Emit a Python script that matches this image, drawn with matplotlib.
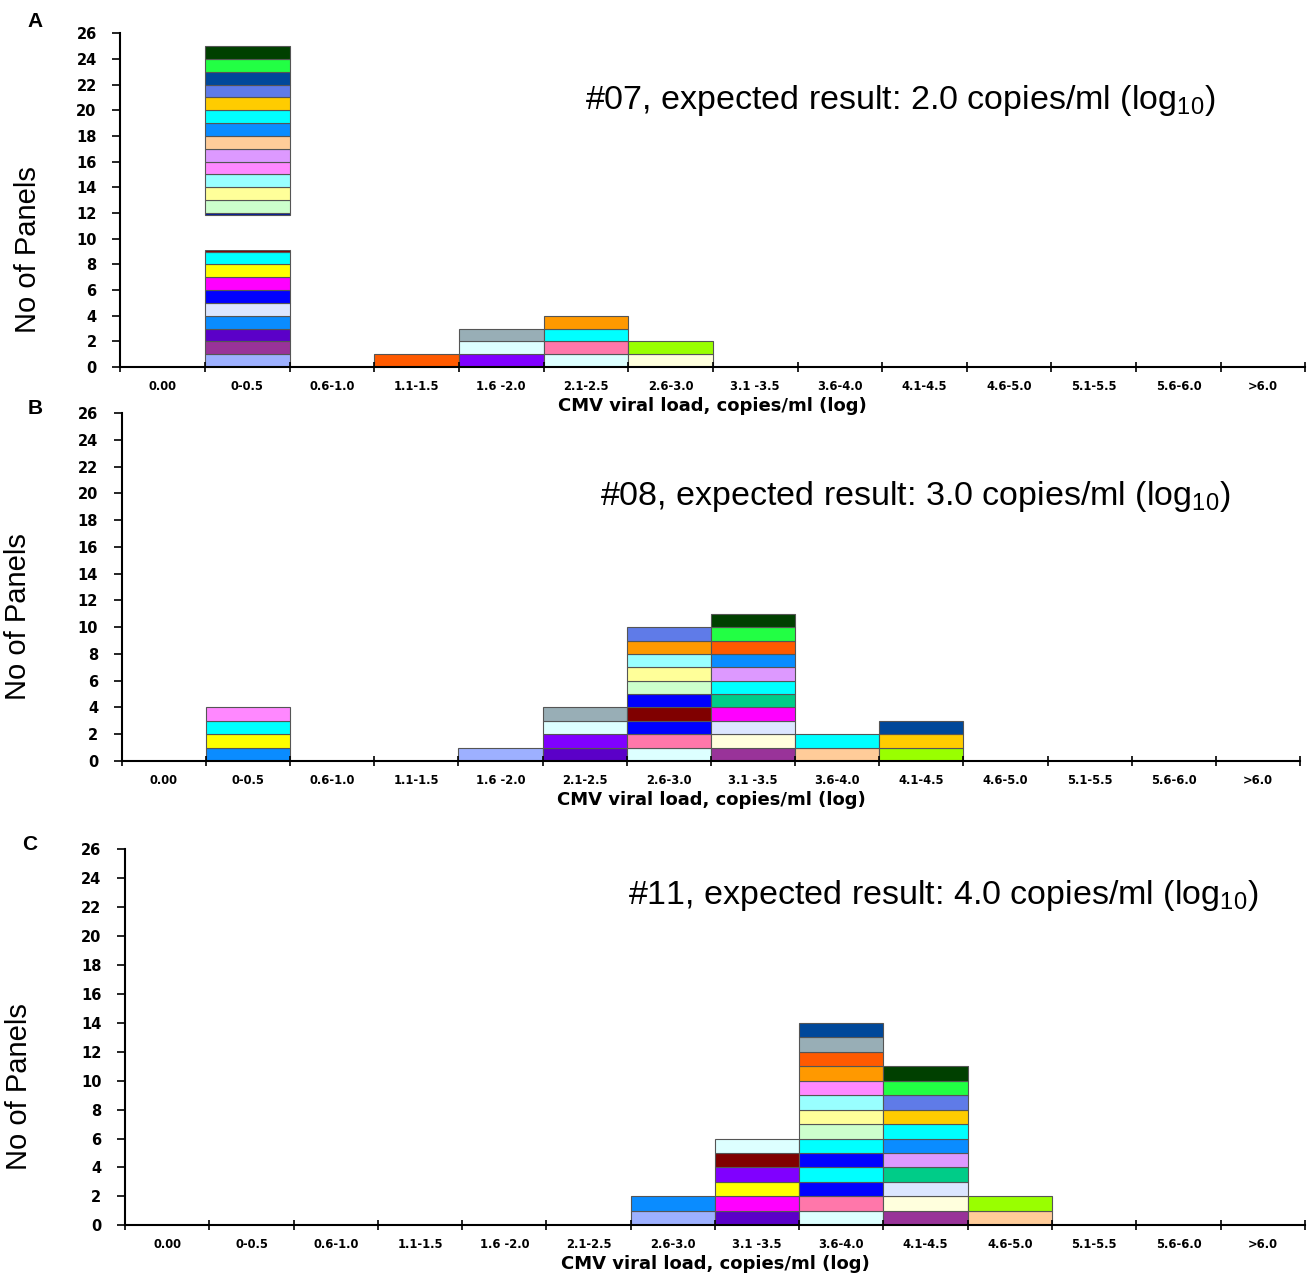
import matplotlib
matplotlib.use('Agg')
import matplotlib.pyplot as plt
from matplotlib.ticker import FixedLocator, NullFormatter, FixedFormatter

plt.rcParams['font.family'] = ['Liberation Sans', 'DejaVu Sans']
plt.rcParams['mathtext.default'] = 'regular'

categories = ["0.00", "0-0.5", "0.6-1.0", "1.1-1.5", "1.6 -2.0", "2.1-2.5", "2.6-3.0",
              "3.1 -3.5", "3.6-4.0", "4.1-4.5", "4.6-5.0", "5.1-5.5", "5.6-6.0", ">6.0"]

COL = {
    'periwinkle': '#9DB0FF', 'dkmagenta': '#993399', 'indigo': '#5B00C8',
    'dodger': '#0A8CFF', 'paleblue': '#DCE6FF', 'blue': '#0000FF',
    'magenta': '#FF00FF', 'yellow': '#FFFF00', 'cyan': '#00FFFF',
    'darkred': '#800000', 'navythin': '#0018A0', 'lightgreen': '#CCFFCC',
    'lightyellow': '#FFFF99', 'palecyan': '#99FFFF', 'pinkviolet': '#FF88FF',
    'lilac': '#DD99FF', 'peach': '#FFCC99', 'gold': '#FFCC00',
    'royal': '#5F7BE8', 'navy': '#00489A', 'green': '#22FF44',
    'dkgreen': '#004000', 'orangered': '#FF5A00', 'purple': '#8000FF',
    'lightcyan': '#DDFFFF', 'graybl': '#98AEB6', 'pink': '#FF77AA',
    'orange': '#FF9900', 'ivory': '#FFFFDD', 'lime': '#99FF00',
    'teal': '#00CC88', 'gap': 'white',
}

# Panel A (#07) stacked segments per category (bottom -> top)
a_colors = {
    "0-0.5": ['periwinkle', 'dkmagenta', 'indigo', 'dodger', 'paleblue', 'blue',
              'magenta', 'yellow', 'cyan', 'darkred', 'gap', 'navythin',
              'lightgreen', 'lightyellow', 'palecyan', 'pinkviolet', 'lilac', 'peach',
              'dodger', 'cyan', 'gold', 'royal', 'navy', 'green', 'dkgreen'],
    "1.1-1.5": ['orangered'],
    "1.6 -2.0": ['purple', 'lightcyan', 'graybl'],
    "2.1-2.5": ['lightcyan', 'pink', 'cyan', 'orange'],
    "2.6-3.0": ['ivory', 'lime'],
}
a_heights = {
    "0-0.5": [1, 1, 1, 1, 1, 1, 1, 1, 1, 0.15, 2.7, 0.15,
              1, 1, 1, 1, 1, 1, 1, 1, 1, 1, 1, 1, 1],
}

# Panel B (#08)
b_colors = {
    "0-0.5": ['dodger', 'yellow', 'cyan', 'pinkviolet'],
    "1.6 -2.0": ['periwinkle'],
    "2.1-2.5": ['indigo', 'purple', 'lightcyan', 'graybl'],
    "2.6-3.0": ['lightcyan', 'pink', 'blue', 'darkred', 'blue', 'lightgreen',
                'lightyellow', 'palecyan', 'orange', 'royal'],
    "3.1 -3.5": ['dkmagenta', 'ivory', 'paleblue', 'magenta', 'teal', 'cyan',
                 'lilac', 'dodger', 'orangered', 'green', 'dkgreen'],
    "3.6-4.0": ['peach', 'cyan'],
    "4.1-4.5": ['lime', 'gold', 'navy'],
}

# Panel C (#11)
c_colors = {
    "2.6-3.0": ['periwinkle', 'dodger'],
    "3.1 -3.5": ['indigo', 'magenta', 'yellow', 'purple', 'darkred', 'lightcyan'],
    "3.6-4.0": ['lightcyan', 'pink', 'blue', 'cyan', 'blue', 'cyan', 'lightgreen',
                'lightyellow', 'palecyan', 'pinkviolet', 'orange', 'orangered',
                'graybl', 'navy'],
    "4.1-4.5": ['dkmagenta', 'ivory', 'paleblue', 'teal', 'lilac', 'dodger', 'cyan',
                'gold', 'royal', 'green', 'dkgreen'],
    "4.6-5.0": ['peach', 'lime'],
}

titles = ["#07, expected result: 2.0 copies/ml (log$_{10}$)",
          "#08, expected result: 3.0 copies/ml (log$_{10}$)",
          "#11, expected result: 4.0 copies/ml (log$_{10}$)"]
letters = ["A", "B", "C"]
yticks = list(range(0, 27, 2))
xlabel = "CMV viral load, copies/ml (log)"
ylabel = "No of Panels"

fig = plt.figure(figsize=(13.08, 12.79), dpi=100)

axes_rects = [
    [0.092, 0.713, 0.906, 0.261],
    [0.093, 0.405, 0.901, 0.272],
    [0.0956, 0.042, 0.902, 0.294],
]
title_pos = [(0.392, 0.80), (0.406, 0.76), (0.426, 0.878)]
ylabel_pos = [(-0.066, 0.353), (-0.076, 0.414), (-0.078, 0.37)]
letter_pos = [(0.027, 0.983), (0.027, 0.681), (0.023, 0.340)]
panels = [(a_colors, a_heights), (b_colors, {}), (c_colors, {})]

boldfont = 'DejaVu Sans'

for k, (colors, heights) in enumerate(panels):
    ax = fig.add_axes(axes_rects[k])
    ax.patch.set_facecolor('none')
    ax.set_zorder(3 - k)
    for i, cat in enumerate(categories):
        if cat not in colors:
            continue
        segs = colors[cat]
        hs = heights.get(cat, [1] * len(segs))
        bottom = 0
        for cname, h in zip(segs, hs):
            c = COL[cname]
            if cname == 'gap':
                ax.bar(i, h, bottom=bottom, width=1.0, color='white',
                       edgecolor='none', linewidth=0)
            else:
                ax.bar(i, h, bottom=bottom, width=1.0, color=c,
                       edgecolor='#555555', linewidth=0.8)
            bottom += h
    ax.set_xlim(-0.5, len(categories) - 0.5)
    ax.set_ylim(0, 26)
    for s in ['top', 'right']:
        ax.spines[s].set_visible(False)
    ax.spines['left'].set_linewidth(1.5)
    ax.spines['bottom'].set_linewidth(1.5)
    ax.set_yticks(yticks)
    ax.set_yticklabels([str(t) for t in yticks], fontsize=10.5, fontweight='bold',
                       family=boldfont)
    ax.tick_params(axis='y', direction='out', length=6, width=1.2, pad=11)
    bounds = [i - 0.5 for i in range(len(categories) + 1)]
    ax.xaxis.set_major_locator(FixedLocator(bounds))
    ax.xaxis.set_major_formatter(NullFormatter())
    ax.xaxis.set_minor_locator(FixedLocator(list(range(len(categories)))))
    ax.xaxis.set_minor_formatter(FixedFormatter(categories))
    ax.tick_params(axis='x', which='major', direction='inout', length=7, width=1.2)
    ax.tick_params(axis='x', which='minor', length=0, pad=9, labelsize=8.3)
    for lab in ax.get_xticklabels(minor=True):
        lab.set_fontweight('bold')
        lab.set_family(boldfont)
    ax.set_xlabel(xlabel, fontsize=13, fontweight='bold', family=boldfont, labelpad=3)
    ax.set_ylabel(ylabel, fontsize=21)
    ax.yaxis.set_label_coords(*ylabel_pos[k])
    ax.text(title_pos[k][0], title_pos[k][1], titles[k], transform=ax.transAxes,
            fontsize=24.5, va='center', ha='left')
    fig.text(letter_pos[k][0], letter_pos[k][1], letters[k], fontsize=15,
             fontweight='bold', ha='center', va='center')

fig.savefig('out.png', dpi=100)
